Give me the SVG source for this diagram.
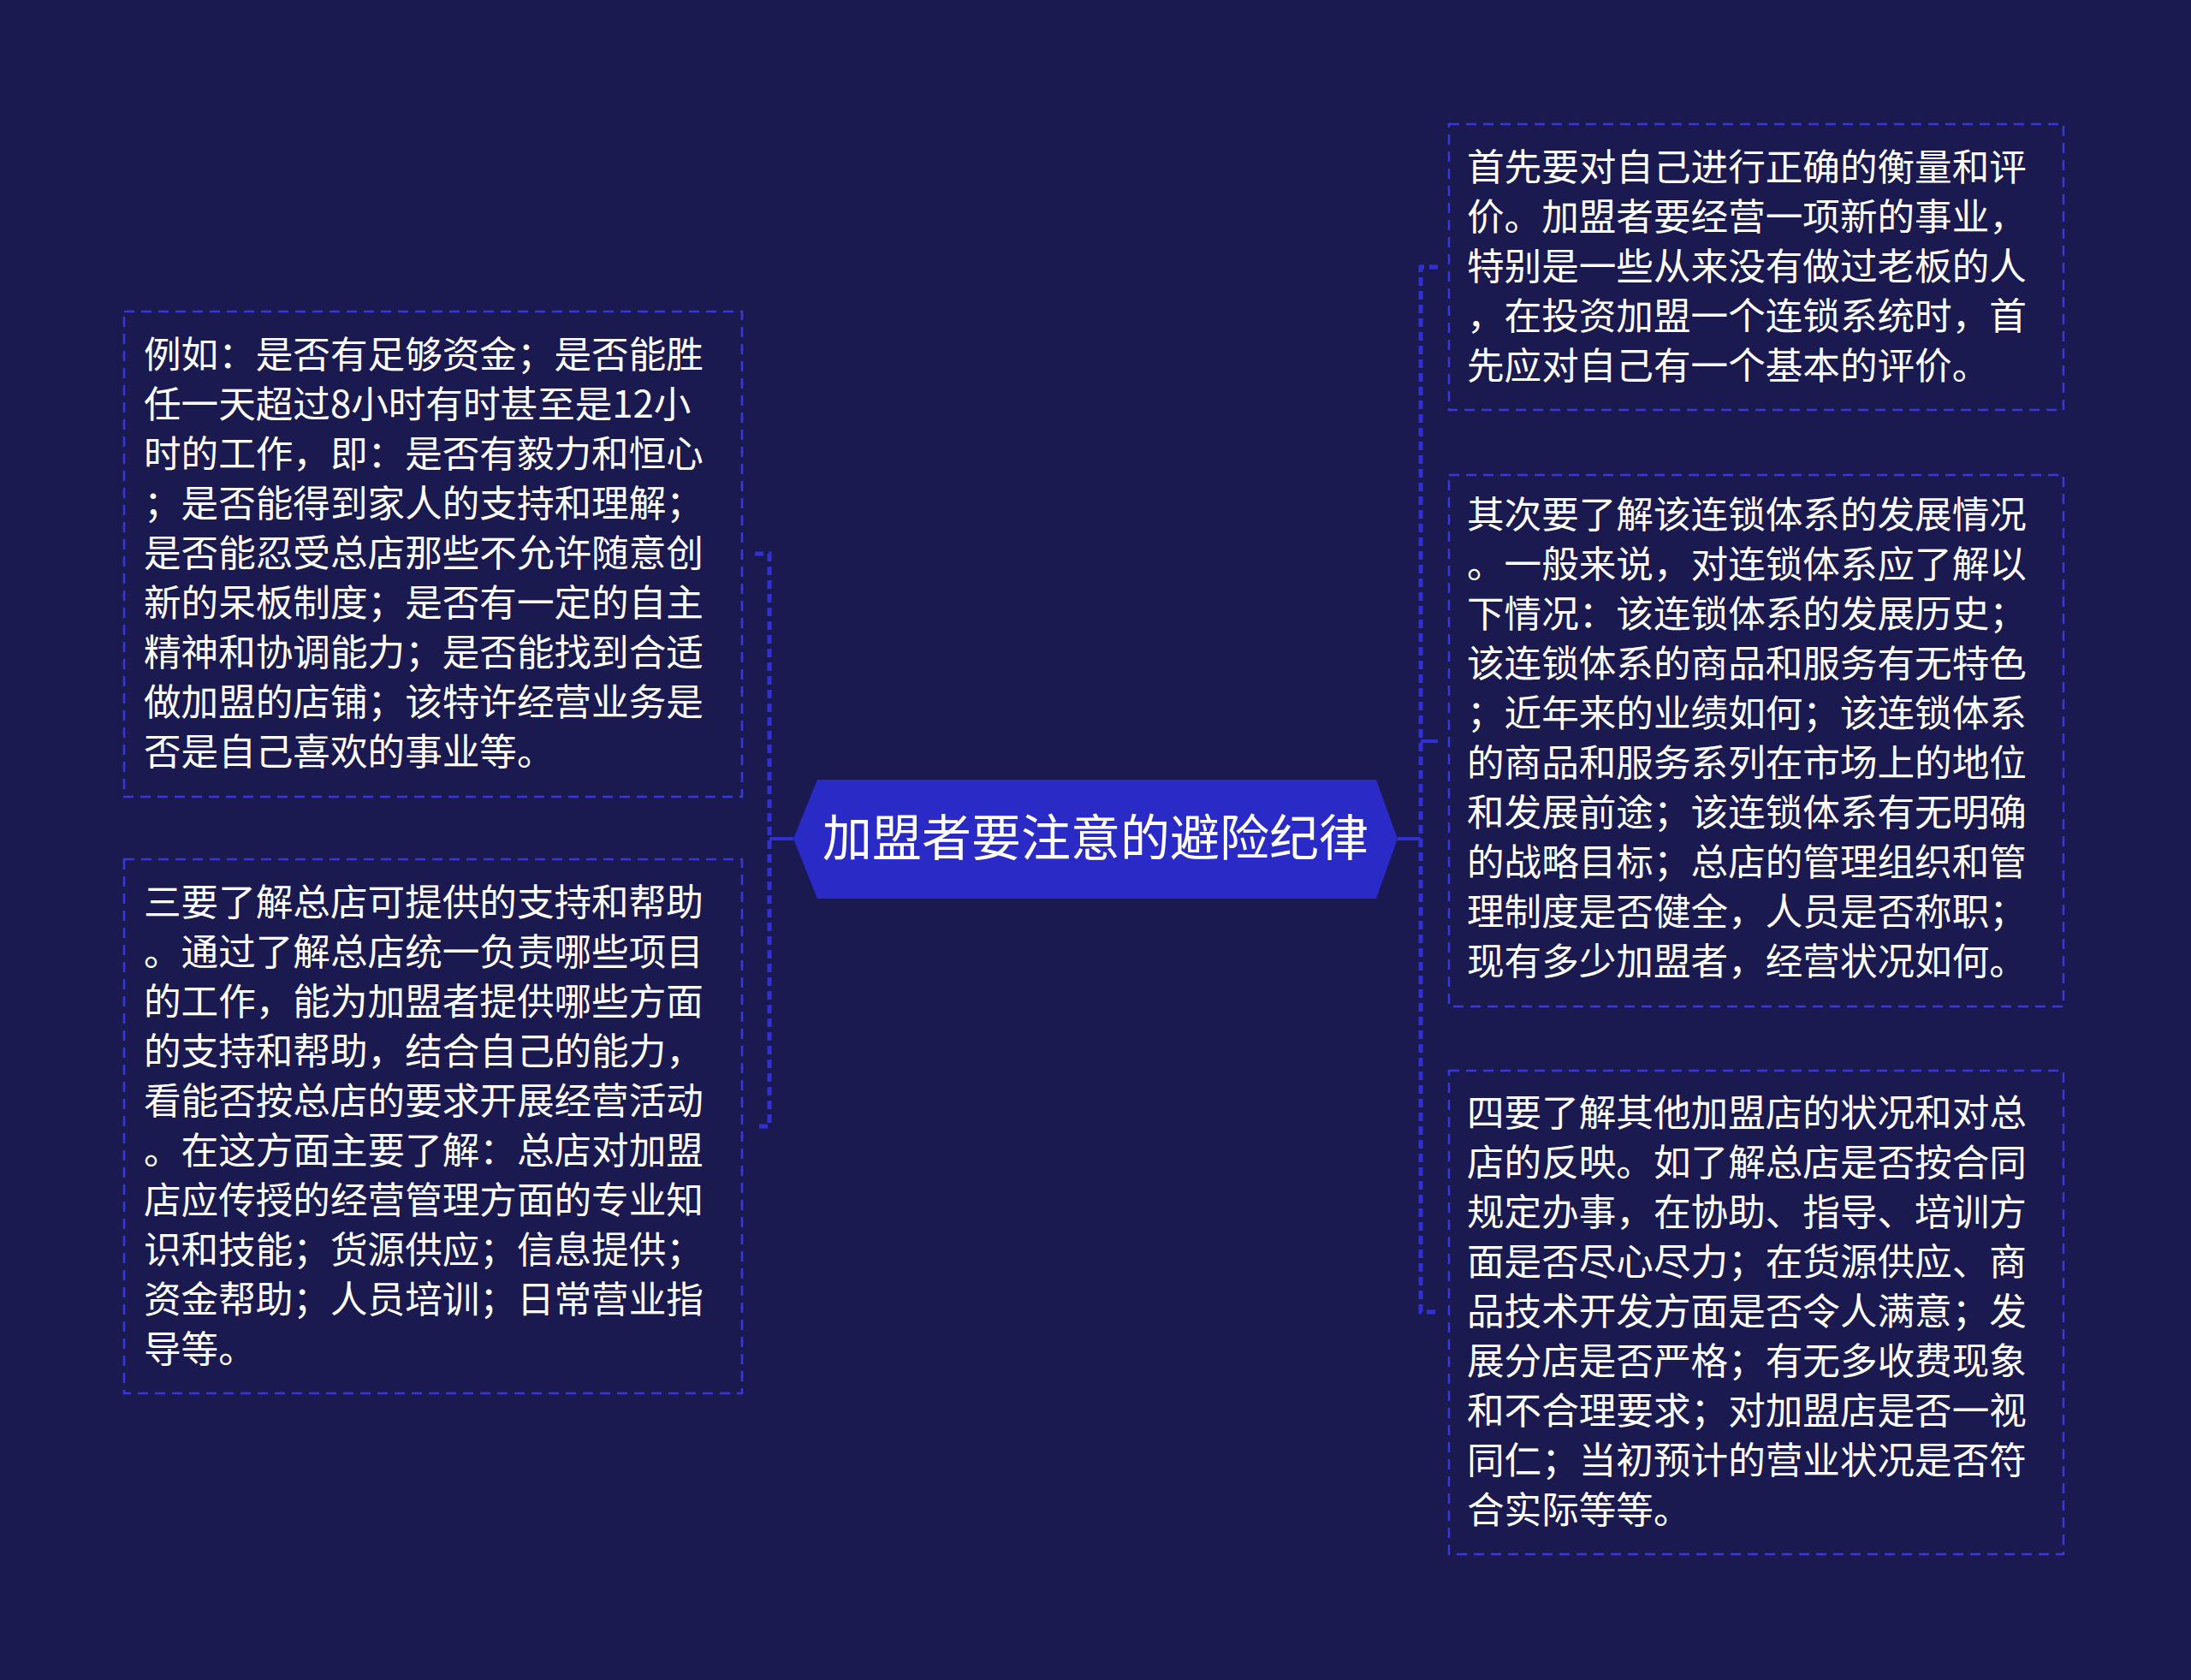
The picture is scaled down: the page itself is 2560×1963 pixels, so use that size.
<svg xmlns="http://www.w3.org/2000/svg" width="2560" height="1963" viewBox="0 0 2560 1963">
<style>
.bg{fill:#1a1950}
.box{fill:#1a1950;stroke:#3838d8;stroke-width:2.5;stroke-dasharray:12 8}
.t{font-family:"Noto Sans CJK SC","Noto Sans",sans-serif;font-size:43.6px;fill:#ffffff}
.ct{font-family:"Noto Sans CJK SC","Noto Sans",sans-serif;font-size:58px;fill:#ffffff}
.trunk{fill:none;stroke:#3030d4;stroke-width:5;stroke-dasharray:10 6}
.solid{fill:none;stroke:#3030d4;stroke-width:4}
</style>
<rect class="bg" x="0" y="0" width="2560" height="1963"/>
<g id="connectors">
<line class="solid" x1="927" y1="980" x2="899" y2="980"/>
<path class="trunk" d="M882,647 H899 V1316 H882"/>
<line class="solid" x1="1633" y1="980" x2="1660" y2="980"/>
<path class="trunk" d="M1680,312 H1660 V1533 H1680"/>
<line class="solid" x1="1660" y1="866" x2="1680" y2="866"/>
</g>
<g id="center">
<polygon points="927,980 955,911 1608,911 1633,980 1608,1050 955,1050" fill="#2a2ac6"/>
<text class="ct" x="1280" y="1000" text-anchor="middle">加盟者要注意的避险纪律</text>
</g>
<g id="left1">
<rect class="box" x="145" y="364" width="722" height="567"/>
<text class="t" x="168" y="430">例如：是否有足够资金；是否能胜</text>
<text class="t" x="168" y="488">任一天超过8小时有时甚至是12小</text>
<text class="t" x="168" y="546">时的工作，即：是否有毅力和恒心</text>
<text class="t" x="168" y="604">；是否能得到家人的支持和理解；</text>
<text class="t" x="168" y="662">是否能忍受总店那些不允许随意创</text>
<text class="t" x="168" y="720">新的呆板制度；是否有一定的自主</text>
<text class="t" x="168" y="778">精神和协调能力；是否能找到合适</text>
<text class="t" x="168" y="836">做加盟的店铺；该特许经营业务是</text>
<text class="t" x="168" y="894">否是自己喜欢的事业等。</text>
</g>
<g id="left2">
<rect class="box" x="145" y="1004" width="722" height="624"/>
<text class="t" x="168" y="1070">三要了解总店可提供的支持和帮助</text>
<text class="t" x="168" y="1128">。通过了解总店统一负责哪些项目</text>
<text class="t" x="168" y="1186">的工作，能为加盟者提供哪些方面</text>
<text class="t" x="168" y="1244">的支持和帮助，结合自己的能力，</text>
<text class="t" x="168" y="1302">看能否按总店的要求开展经营活动</text>
<text class="t" x="168" y="1360">。在这方面主要了解：总店对加盟</text>
<text class="t" x="168" y="1418">店应传授的经营管理方面的专业知</text>
<text class="t" x="168" y="1476">识和技能；货源供应；信息提供；</text>
<text class="t" x="168" y="1534">资金帮助；人员培训；日常营业指</text>
<text class="t" x="168" y="1592">导等。</text>
</g>
<g id="right1">
<rect class="box" x="1693" y="145" width="718" height="334"/>
<text class="t" x="1714" y="211">首先要对自己进行正确的衡量和评</text>
<text class="t" x="1714" y="269">价。加盟者要经营一项新的事业，</text>
<text class="t" x="1714" y="327">特别是一些从来没有做过老板的人</text>
<text class="t" x="1714" y="385">，在投资加盟一个连锁系统时，首</text>
<text class="t" x="1714" y="443">先应对自己有一个基本的评价。</text>
</g>
<g id="right2">
<rect class="box" x="1693" y="555" width="718" height="621"/>
<text class="t" x="1714" y="617">其次要了解该连锁体系的发展情况</text>
<text class="t" x="1714" y="675">。一般来说，对连锁体系应了解以</text>
<text class="t" x="1714" y="733">下情况：该连锁体系的发展历史；</text>
<text class="t" x="1714" y="791">该连锁体系的商品和服务有无特色</text>
<text class="t" x="1714" y="849">；近年来的业绩如何；该连锁体系</text>
<text class="t" x="1714" y="907">的商品和服务系列在市场上的地位</text>
<text class="t" x="1714" y="965">和发展前途；该连锁体系有无明确</text>
<text class="t" x="1714" y="1023">的战略目标；总店的管理组织和管</text>
<text class="t" x="1714" y="1081">理制度是否健全，人员是否称职；</text>
<text class="t" x="1714" y="1139">现有多少加盟者，经营状况如何。</text>
</g>
<g id="right3">
<rect class="box" x="1693" y="1251" width="718" height="565"/>
<text class="t" x="1714" y="1316">四要了解其他加盟店的状况和对总</text>
<text class="t" x="1714" y="1374">店的反映。如了解总店是否按合同</text>
<text class="t" x="1714" y="1432">规定办事，在协助、指导、培训方</text>
<text class="t" x="1714" y="1490">面是否尽心尽力；在货源供应、商</text>
<text class="t" x="1714" y="1548">品技术开发方面是否令人满意；发</text>
<text class="t" x="1714" y="1606">展分店是否严格；有无多收费现象</text>
<text class="t" x="1714" y="1664">和不合理要求；对加盟店是否一视</text>
<text class="t" x="1714" y="1722">同仁；当初预计的营业状况是否符</text>
<text class="t" x="1714" y="1780">合实际等等。</text>
</g>
</svg>
